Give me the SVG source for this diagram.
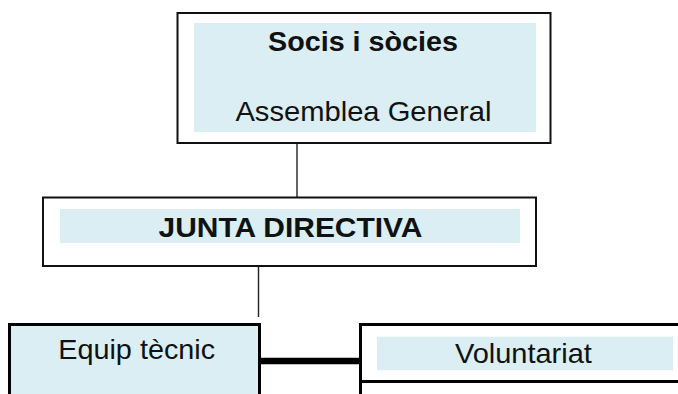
<svg xmlns="http://www.w3.org/2000/svg" width="678" height="394" viewBox="0 0 678 394">
  <style>
    .frame { fill: #ffffff; stroke: #111111; stroke-width: 2; }
    .frame-thick { fill: #ffffff; stroke: #000000; stroke-width: 3; }
    .fillblue { fill: #DAEEF3; stroke: none; }
    .label { font-family: "Liberation Sans", Arial, sans-serif; font-size: 28.5px; fill: #111111; text-anchor: middle; }
    .bold { font-weight: bold; }
    .conn { stroke: #222222; stroke-width: 1.4; fill: none; }
    .conn-thick { stroke: #000000; stroke-width: 6.5; fill: none; }
  </style>
  <rect width="678" height="394" fill="#ffffff"/>

  <g id="connectors">
    <line class="conn" x1="297" y1="143" x2="297" y2="197"/>
    <line class="conn" x1="258.5" y1="266" x2="258.5" y2="317"/>
    <line class="conn-thick" x1="261" y1="361" x2="359" y2="361"/>
  </g>

  <g id="node-socis">
    <rect class="frame" x="177.5" y="13" width="373" height="130"/>
    <rect class="fillblue" x="194" y="23" width="342" height="109"/>
    <text class="label bold" x="363" y="51" textLength="190" lengthAdjust="spacingAndGlyphs">Socis i sòcies</text>
    <text class="label" x="363.4" y="121" textLength="256" lengthAdjust="spacingAndGlyphs">Assemblea General</text>
  </g>

  <g id="node-junta">
    <rect class="frame" x="43" y="197.5" width="493" height="68.5"/>
    <rect class="fillblue" x="60" y="209" width="460" height="34"/>
    <text class="label bold" x="290.5" y="236.5" textLength="264" lengthAdjust="spacingAndGlyphs">JUNTA DIRECTIVA</text>
  </g>

  <g id="node-equip">
    <rect class="frame-thick" x="9.5" y="324.5" width="250" height="80" style="fill:#DAEEF3"/>
    <text class="label" x="136.7" y="358.5" textLength="157" lengthAdjust="spacingAndGlyphs">Equip tècnic</text>
  </g>

  <g id="node-voluntariat">
    <rect class="frame-thick" x="360.5" y="324.5" width="330" height="57"/>
    <rect class="frame-thick" x="360.5" y="381.5" width="330" height="30"/>
    <rect class="fillblue" x="377" y="336.7" width="296" height="33.5"/>
    <text class="label" x="523.4" y="363" textLength="137" lengthAdjust="spacingAndGlyphs">Voluntariat</text>
  </g>
</svg>
